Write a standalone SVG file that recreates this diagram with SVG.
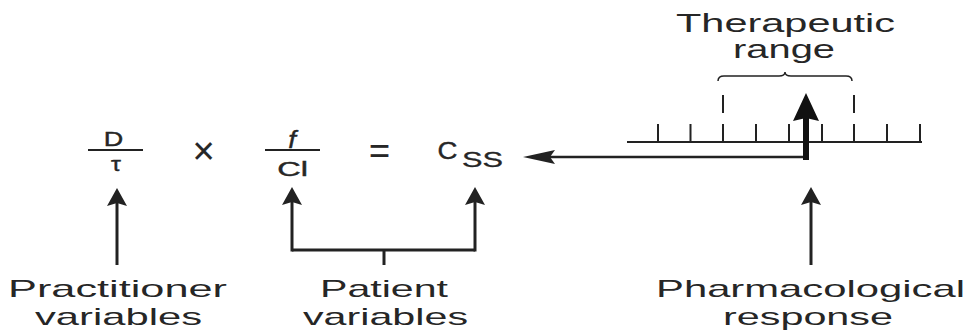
<svg xmlns="http://www.w3.org/2000/svg" width="968" height="333" viewBox="0 0 968 333">
  <style>
    text { font-family: "Liberation Sans", Arial, sans-serif; fill: #262626; }
    .lbl { font-size: 24px; }
    .ttl { font-size: 25px; }
    .math { font-size: 21px; stroke: #262626; stroke-width: 0.4px; }
    .it { font-style: italic; }
    .ln { stroke: #222; stroke-width: 2; fill: none; }
    .arr { stroke: #222; stroke-width: 3; fill: none; }
    .thin { stroke: #222; stroke-width: 1.5; fill: none; }
  </style>
  <defs>
    <marker id="up" markerUnits="userSpaceOnUse" viewBox="-2 -12 24 24" markerWidth="24" markerHeight="24" refX="6" refY="0" orient="auto" overflow="visible">
      <path d="M0,-10 L18,0 L0,10 L3,0 z" fill="#222"/>
    </marker>
    <marker id="left" markerUnits="userSpaceOnUse" viewBox="-2 -9 36 18" markerWidth="36" markerHeight="18" refX="8" refY="0" orient="auto" overflow="visible">
      <path d="M0,-7 L32,0 L0,7 L5,0 z" fill="#222"/>
    </marker>
    <marker id="big" markerUnits="userSpaceOnUse" viewBox="-2 -15 32 30" markerWidth="32" markerHeight="30" refX="3" refY="0" orient="auto" overflow="visible">
      <path d="M0,-13 L28,0 L0,13 L3,0 z" fill="#111"/>
    </marker>
  </defs>

  <!-- Formula nodes -->
  <g id="dose-term">
    <text class="math" transform="translate(113.5,146) scale(1.35,1)" style="font-size:20px" text-anchor="middle">D</text>
    <line class="ln" x1="88" y1="150" x2="143" y2="150"/>
    <text class="math" transform="translate(116,171) scale(1.25,1)" style="font-size:20px" text-anchor="middle">τ</text>
  </g>
  <g id="times">
    <text class="math" x="203.5" y="164" style="font-size:38px;stroke-width:0.2px" text-anchor="middle">×</text>
  </g>
  <g id="f-term">
    <text class="math it" transform="translate(292,148) scale(1.2,1)" style="font-size:23px" text-anchor="middle">f</text>
    <line class="ln" x1="265" y1="150" x2="320" y2="150"/>
    <text class="math" transform="translate(292.5,175.5) scale(1.55,1)" text-anchor="middle">Cl</text>
  </g>
  <g id="equals">
    <text class="math" x="379.5" y="163" style="font-size:36px;stroke-width:0.2px" text-anchor="middle">=</text>
  </g>
  <g id="css">
    <text class="math" transform="translate(447.5,158.5) scale(1.15,1)" style="font-size:24px" text-anchor="middle">C</text>
    <text class="math" x="462" y="166.5" style="font-size:22px;stroke-width:0.3px" textLength="41" lengthAdjust="spacingAndGlyphs">SS</text>
  </g>

  <!-- Response scale -->
  <g id="scale">
    <line class="ln" x1="627" y1="142" x2="922" y2="142"/>
    <path class="ln" d="M658,124V142 M690.5,124V142 M723,124V142 M756,124V142 M789,124V142 M822,124V142 M854,124V142 M887,124V142 M920,124V142"/>
    <path class="ln" d="M723,95V113 M854,95V113"/>
    <path class="thin" d="M718,81 Q718,76 724,76 L779,76 Q785,76 785,72 Q785,76 791,76 L846,76 Q852,76 852,81"/>
  </g>
  <g id="therapeutic-range">
    <text class="ttl" x="676" y="32" textLength="219" lengthAdjust="spacingAndGlyphs">Therapeutic</text>
    <text class="ttl" x="733" y="58" textLength="102" lengthAdjust="spacingAndGlyphs">range</text>
  </g>

  <!-- Labels -->
  <g id="practitioner-variables">
    <text class="lbl" x="8" y="297" textLength="219" lengthAdjust="spacingAndGlyphs">Practitioner</text>
    <text class="lbl" x="35" y="325" textLength="167" lengthAdjust="spacingAndGlyphs">variables</text>
  </g>
  <g id="patient-variables">
    <text class="lbl" x="320" y="297" textLength="128" lengthAdjust="spacingAndGlyphs">Patient</text>
    <text class="lbl" x="303" y="325" textLength="165" lengthAdjust="spacingAndGlyphs">variables</text>
  </g>
  <g id="pharmacological-response">
    <text class="lbl" x="656" y="297" textLength="309" lengthAdjust="spacingAndGlyphs">Pharmacological</text>
    <text class="lbl" x="723" y="325" textLength="170" lengthAdjust="spacingAndGlyphs">response</text>
  </g>

  <!-- Connectors -->
  <g id="connectors">
    <line class="arr" x1="117" y1="265" x2="117" y2="200" marker-end="url(#up)"/>
    <path class="arr" d="M384,265 V250"/>
    <path class="arr" d="M292,250 H475"/>
    <line class="arr" x1="292" y1="251.5" x2="292" y2="199" marker-end="url(#up)"/>
    <line class="arr" x1="475" y1="251.5" x2="475" y2="199" marker-end="url(#up)"/>
    <line class="arr" x1="811" y1="265" x2="811" y2="199" marker-end="url(#up)"/>
    <line stroke="#222" stroke-width="2.5" x1="806" y1="157" x2="547" y2="157" marker-end="url(#left)"/>
    <line stroke="#111" stroke-width="6" x1="806" y1="160" x2="806" y2="118" marker-end="url(#big)"/>
  </g>
</svg>
